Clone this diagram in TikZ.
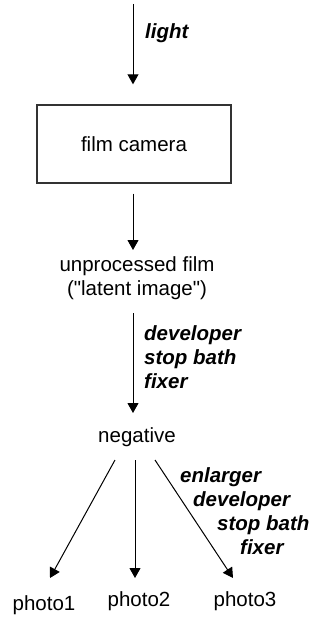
\documentclass[tikz,border=0pt]{standalone}
\usepackage{fontspec}
\setmainfont{Liberation Sans}
\usetikzlibrary{calc,arrows.meta}

\tikzset{
  stage/.style={font=\fontsize{20.5}{24}\selectfont, inner sep=0pt, align=center},
  agent/.style={font=\fontsize{20.5}{24}\selectfont\bfseries\itshape, inner sep=0pt, align=left},
  camerabox/.style={stage, draw=black!80, line width=1.4pt, minimum width=194pt, minimum height=78pt},
  flow/.style={line width=1pt, -{Triangle[length=10pt,width=11pt]}}
}

\begin{document}
\begin{tikzpicture}[x=1pt,y=-1pt]
  \useasboundingbox (0,0) rectangle (322,618);

  \coordinate (src) at (133,4);
  \node[camerabox] (camera) at (134,144) {film camera};
  \node[stage] (latent) at (137,278) {unprocessed film\\(\textquotedbl latent image\textquotedbl)};
  \node[stage] (negative) at (137,437) {negative};
  \node[stage] (photo1) at (44,605) {photo1};
  \node[stage] (photo2) at (139,601) {photo2};
  \node[stage] (photo3) at (245,601) {photo3};

  \draw[flow] (src) -- ($(camera.north)+(-1,-20)$);
  \draw[flow] ($(camera.south)+(-1,10)$) -- ($(latent)+(-4,-28)$);
  \draw[flow] ($(latent)+(-4,35)$) -- ($(negative)+(-4,-24)$);

  \draw[flow] ($(negative)+(-22,23)$) -- ($(photo1)+(6,-27)$);
  \draw[flow] ($(negative)+(-2,23)$) -- ($(photo2)+(-4,-23)$);
  \draw[flow] ($(negative)+(18,23)$) -- ($(photo3)+(-12,-23)$);

  % labels on the arrows
  \node[agent, anchor=west] at (145,33) {light};
  \node[agent, anchor=west] at (144,357) {developer\\stop bath\\fixer};
  \node[agent, anchor=north west] at (180,467)
    {enlarger\\\hspace*{13pt}developer\\\hspace*{37pt}stop bath\\\hspace*{60pt}fixer};
\end{tikzpicture}
\end{document}
